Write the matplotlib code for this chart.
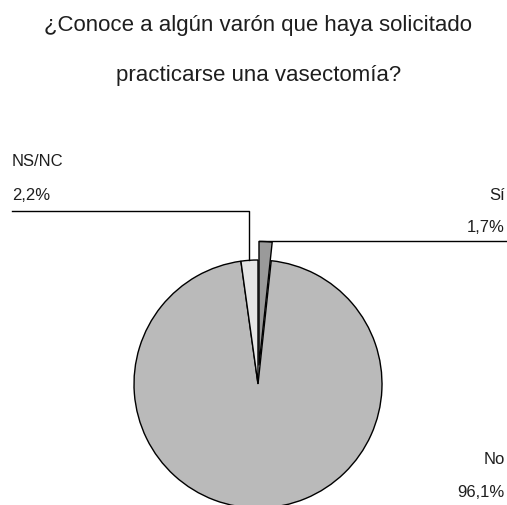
import numpy as np
import matplotlib
matplotlib.use("Agg")
import matplotlib.pyplot as plt

plt.rcParams['font.family'] = ['Liberation Sans', 'DejaVu Sans']

title_lines = ["¿Conoce a algún varón que haya solicitado", "practicarse una vasectomía?"]
categories = ["Sí", "No", "NS/NC"]
values = [1.7, 96.1, 2.2]
value_labels = ["1,7%", "96,1%", "2,2%"]
colors = ["#9a9a9a", "#bababa", "#e6e6e6"]
explode_frac = [0.15, 0.0, 0.0]

W, H = 507, 506
fig = plt.figure(figsize=(W / 100, H / 100), dpi=100)
ax = fig.add_axes([0, 0, 1, 1])

cx, cy, R = 258, 121, 124
# pie() offsets exploded wedges in data units, so scale by the radius
explode = [e * R for e in explode_frac]
wedges, _ = ax.pie(values, colors=colors, explode=explode, startangle=90,
                   counterclock=False, center=(cx, cy), radius=R,
                   wedgeprops=dict(edgecolor='black', linewidth=1.0),
                   frame=True)
ax.set_xlim(0, W)
ax.set_ylim(0, H)
ax.set_aspect('equal')
ax.axis('off')

ink = '#1e1e1e'
txt = dict(color=ink, fontsize=12)

# Title
ax.text(W / 2 + 5, H - 25, title_lines[0], ha='center', va='center', fontsize=16, color=ink)
ax.text(W / 2 + 5, H - 75, title_lines[1], ha='center', va='center', fontsize=16, color=ink)

# Leader for NS/NC: from the top of its wedge straight up, then left
w = wedges[2]
mid = np.deg2rad((w.theta1 + w.theta2) / 2)
x0 = w.center[0] + R * np.cos(mid)
y0 = w.center[1] + R * np.sin(mid)
y_turn = H - 212
ax.plot([x0, x0, 12], [y0, y_turn, y_turn], color='black', lw=1.0)
ax.text(12, H - 162, categories[2], ha='left', va='center', **txt)
ax.text(12, H - 196, value_labels[2], ha='left', va='center', **txt)

# Leader for Sí: from the top of the exploded wedge to the right
w = wedges[0]
x1 = w.center[0] + R * np.cos(np.deg2rad(w.theta2))
y1 = w.center[1] + R * np.sin(np.deg2rad(w.theta2))
ax.plot([x1, 506], [y1, y1], color='black', lw=1.0)
ax.text(505, H - 195, categories[0], ha='right', va='center', **txt)
ax.text(505, H - 228, value_labels[0], ha='right', va='center', **txt)

# No label
ax.text(505, H - 460, categories[1], ha='right', va='center', **txt)
ax.text(505, H - 493, value_labels[1], ha='right', va='center', **txt)

fig.savefig("out.png", dpi=100, facecolor='white')
